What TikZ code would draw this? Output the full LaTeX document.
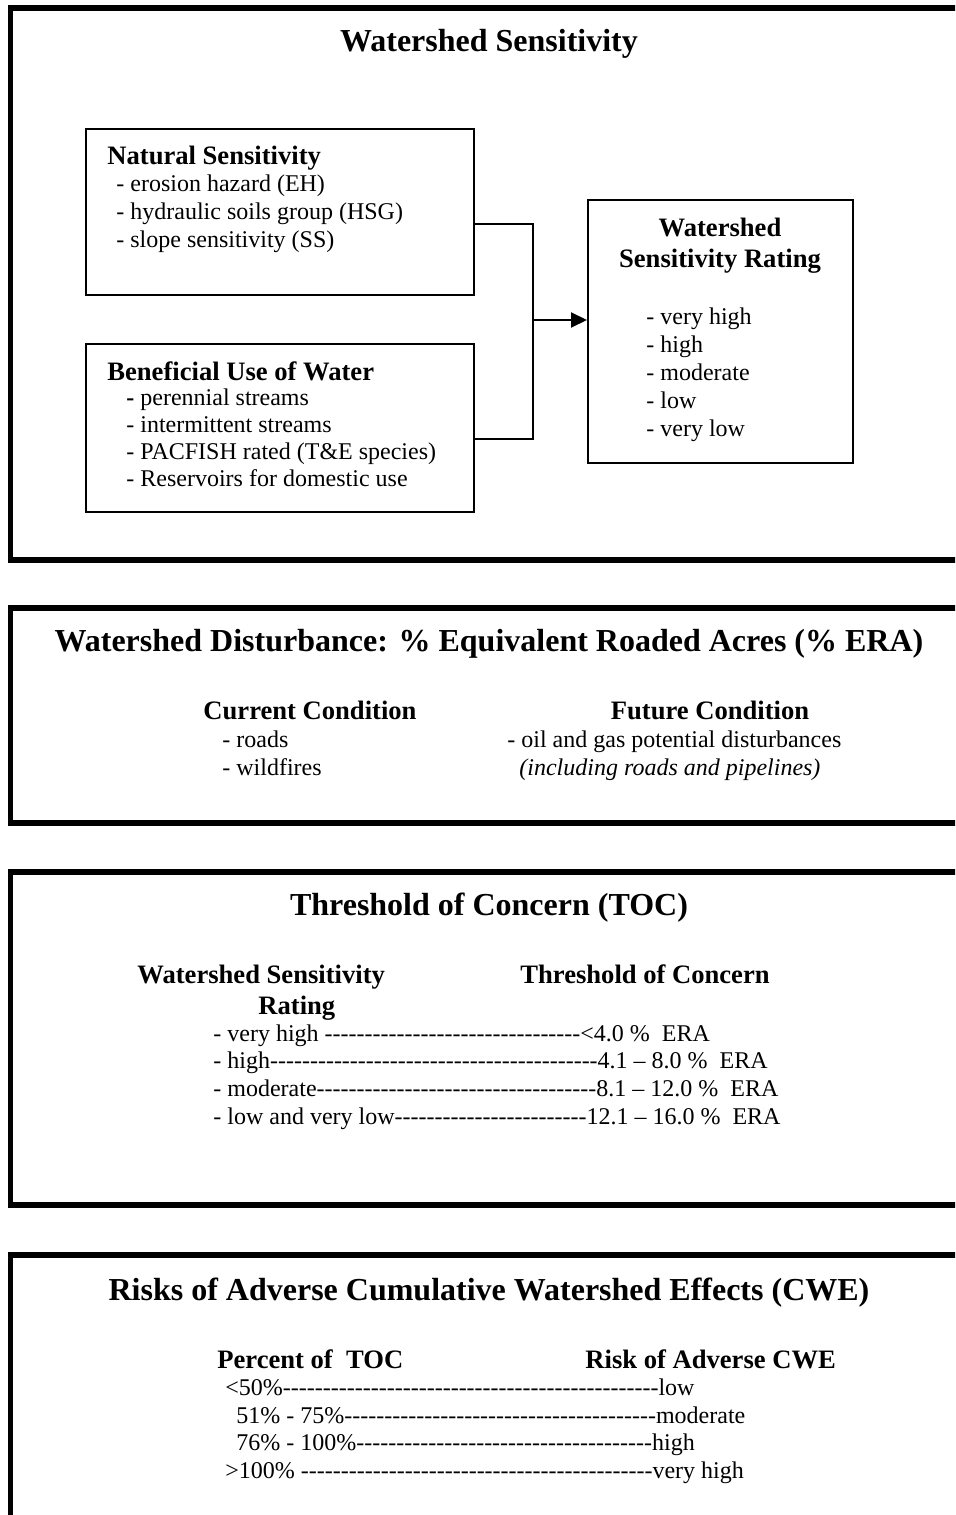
\documentclass[tikz,border=0pt]{standalone}
\usepackage{fontspec}
\setmainfont{Liberation Serif}
\usepackage{tikz}
\usetikzlibrary{positioning,calc,arrows.meta}

% hyphens that do not run together into dashes
\newcommand{\dashrun}[1]{\foreach \k in {1,...,#1}{-\kern0pt}}

\tikzset{
  frame/.style={line width=2.8pt},
  panel/.style={draw, line width=1pt, inner sep=0pt},
  ttl/.style={font=\fontsize{16}{19}\selectfont\bfseries, anchor=base, inner sep=0pt},
  sub/.style={font=\fontsize{13.3}{16}\selectfont\bfseries, inner sep=0pt},
  txt/.style={font=\fontsize{12}{14}\selectfont, anchor=base west, inner sep=0pt},
}

\begin{document}
\begin{tikzpicture}[x=0.5pt, y=-0.5pt]
                    \useasboundingbox (0,0) rectangle (955,1515);
                    \clip (0,0) rectangle (955,1515);

                    % the four frames, open on the right
                    \draw[frame] (965,8) -| (10.5,560) -- (965,560);
                    \draw[frame] (965,608) -| (10.5,823) -- (965,823);
                    \draw[frame] (965,872) -| (10.5,1205) -- (965,1205);
                    \draw[frame] (965,1255) -| (10.5,1530);

                    % Watershed Sensitivity
                    \node[ttl] (wsTitle) at (489,51) {Watershed Sensitivity};

                    \node[panel, minimum width=194pt, minimum height=83pt] (nat) at (280,212) {};
                    \node[sub, anchor=base west] (natHead) at (107,164) {Natural Sensitivity};
                    \foreach \t [count=\i] in {erosion hazard (EH), hydraulic soils group (HSG), slope sensitivity (SS)}
                        \node[txt] (nat\i) at (116,163+28*\i) {- \t};

                    \node[panel, minimum width=194pt, minimum height=84pt] (ben) at (280,428) {};
                    \node[sub, anchor=base west] (benHead) at (107,380) {Beneficial Use of Water};
                    \node[txt] (ben1) at (126,405) {\textbf{-} perennial streams};
                    \node[txt] (ben2) at (126,432) {- intermittent streams};
                    \node[txt] (ben3) at (126,459) {- PACFISH rated (T\&E species)};
                    \node[txt] (ben4) at (126,486) {- Reservoirs for domestic use};

                    \node[panel, minimum width=132.5pt, minimum height=131.5pt] (rate) at (720.5,331.5) {};
                    \node[sub, anchor=base] (rateHeadA) at (720,236) {Watershed};
                    \node[sub, anchor=base] (rateHeadB) at (720,267) {Sensitivity Rating};
                    \foreach \t [count=\i] in {very high, high, moderate, low, very low}
                        \node[txt] (rate\i) at (646,296+28*\i) {- \t};

                    \coordinate (jmid) at (532,320);
                    \draw[line width=1pt] ([yshift=-6pt]nat.east) -- ++(29pt,0) |- ([yshift=-5.5pt]ben.east);
                    \draw[line width=1pt, -{Triangle[length=8pt,width=7.5pt]}] (jmid) -- (jmid -| rate.west);

                    % Watershed Disturbance
                    \node[ttl] (wdTitle) at (489,651) {Watershed Disturbance: \% Equivalent Roaded Acres (\% ERA)};
                    \node[sub, anchor=base] (curHead) at (310,719) {Current Condition};
                    \node[txt] (cur1) at (222,747) {- roads};
                    \node[txt] (cur2) at (222,775) {- wildfires};
                    \node[sub, anchor=base] (futHead) at (710,719) {Future Condition};
                    \node[txt] (fut1) at (507,747) {- oil and gas potential disturbances};
                    \node[txt, font=\fontsize{12}{14}\selectfont\itshape] (fut2) at (519,775) {(including roads and pipelines)};

                    % Threshold of Concern
                    \node[ttl] (tocTitle) at (489,915) {Threshold of Concern (TOC)};
                    \node[sub, anchor=base west] (tocHeadA) at (137,983) {Watershed Sensitivity};
                    \node[sub, anchor=base west] (tocHeadB) at (258,1014) {Rating};
                    \node[sub, anchor=base west] (tocHeadC) at (520,983) {Threshold of Concern};
                    \node[txt] (toc1) at (213,1041) {- very high \dashrun{32}<4.0 \%\ \ ERA};
                    \node[txt] (toc2) at (213,1068) {- high\dashrun{41}4.1 – 8.0 \%\ \ ERA};
                    \node[txt] (toc3) at (213,1096) {- moderate\dashrun{35}8.1 – 12.0 \%\ \ ERA};
                    \node[txt] (toc4) at (213,1124) {- low and very low\dashrun{24}12.1 – 16.0 \%\ \ ERA};

                    % Risks of adverse CWE
                    \node[ttl] (cweTitle) at (489,1300) {Risks of Adverse Cumulative Watershed Effects (CWE)};
                    \node[sub, anchor=base west] (cweHeadA) at (217,1368) {Percent of\ \ TOC};
                    \node[sub, anchor=base west] (cweHeadB) at (585,1368) {Risk of Adverse CWE};
                    \node[txt] (cwe1) at (225,1395) {<50\%\dashrun{47}low};
                    \node[txt] (cwe2) at (236,1423) {51\% - 75\%\dashrun{39}moderate};
                    \node[txt] (cwe3) at (236,1450) {76\% - 100\%\dashrun{37}high};
                    \node[txt] (cwe4) at (225,1478) {>100\% \dashrun{44}very high};
\end{tikzpicture}
\end{document}
